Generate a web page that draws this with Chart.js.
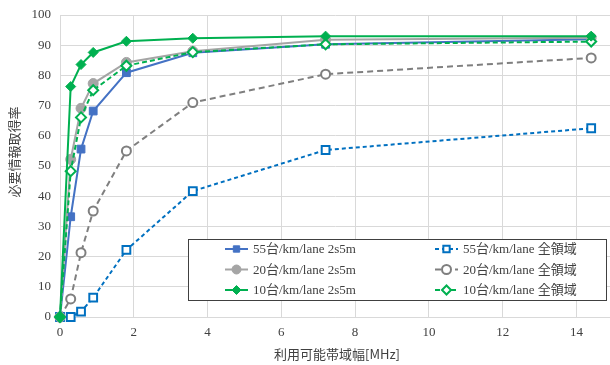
<!DOCTYPE html>
<html>
<head>
<meta charset="utf-8">
<script src="https://cdn.jsdelivr.net/npm/chart.js@4.4.1/dist/chart.umd.min.js"></script>
<style>
  html, body { margin: 0; padding: 0; background: #fff; }
  canvas { display: block; }
</style>
</head>
<body>
<canvas id="chart" width="610" height="365"></canvas>
<script>
/* ─── Data ─── */
const bandwidth = [0, 0.29, 0.57, 0.9, 1.8, 3.6, 7.2, 14.4];

const rate55Partial = [0, 33.2, 55.6, 68.2, 80.9, 87.5, 90.3, 92.0];
const rate20Partial = [0, 52.2, 69.1, 77.3, 84.3, 88.0, 91.8, 92.5];
const rate10Partial = [0, 76.3, 83.6, 87.6, 91.3, 92.3, 93.0, 93.0];
const rate55Full    = [0, 0.0, 1.8, 6.4, 22.2, 41.7, 55.3, 62.5];
const rate20Full    = [0, 6.0, 21.3, 35.1, 55.0, 71.0, 80.4, 85.8];
const rate10Full    = [0, 48.3, 66.1, 75.1, 83.2, 87.7, 90.3, 91.2];

const seriesLabels = [
  '55台/km/lane 2s5m', '55台/km/lane 全領域',
  '20台/km/lane 2s5m', '20台/km/lane 全領域',
  '10台/km/lane 2s5m', '10台/km/lane 全領域',
];

const xTicks = [0, 2, 4, 6, 8, 10, 12, 14];
const yTicks = [0, 10, 20, 30, 40, 50, 60, 70, 80, 90, 100];

const xTitle = '利用可能帯域幅[MHz]';
const yTitle = '必要情報取得率';

/* ─── Styles ─── */
const FONT = "'Liberation Serif', 'Noto Sans CJK JP', serif";
const TITLE_FONT = "'Noto Sans CJK JP', 'Liberation Serif', sans-serif";
const GRID = '#D9D9D9';

function toPoints(values) {
  return values.map((y, i) => ({ x: bandwidth[i], y }));
}

const STYLES = [
  { data: rate55Partial, color: '#4472C4', style: 'rect',    radius: 5.5, fill: true,  dash: [],     order: 3 },
  { data: rate55Full,    color: '#0070C0', style: 'rect',    radius: 5.5, fill: false, dash: [4, 3], order: 4 },
  { data: rate20Partial, color: '#A5A5A5', style: 'circle',  radius: 5,   fill: true,  dash: [],     order: 2 },
  { data: rate20Full,    color: '#7F7F7F', style: 'circle',  radius: 4.5, fill: false, dash: [6, 4], order: 5 },
  { data: rate10Partial, color: '#00B050', style: 'rectRot', radius: 5,   fill: true,  dash: [],     order: 0 },
  { data: rate10Full,    color: '#00B050', style: 'rectRot', radius: 5,   fill: false, dash: [5, 3], order: 1 },
];

const datasets = STYLES.map((s, i) => ({
  label: seriesLabels[i],
  data: toPoints(s.data),
  borderColor: s.color,
  backgroundColor: s.fill ? s.color : '#ffffff',
  borderWidth: 2,
  borderDash: s.dash,
  pointStyle: s.style,
  pointRadius: s.radius,
  pointBorderWidth: s.fill ? 1 : 2,
  pointBackgroundColor: s.fill ? s.color : '#ffffff',
  pointBorderColor: s.color,
  showLine: true,
  tension: 0,
  clip: false,
  order: s.order,
}));

/* ─── Boxed two-column legend inside the plot ─── */
const boxLegend = {
  id: 'boxLegend',
  afterDatasetsDraw(chart) {
    const ctx = chart.ctx;
    const box = { x: 188.5, y: 239.5, w: 418, h: 61 };
    const cols = [{ lx: 225, tx: 253 }, { lx: 435, tx: 463 }];
    const rows = [249, 269.5, 290];

    ctx.save();
    ctx.fillStyle = '#ffffff';
    ctx.fillRect(box.x, box.y, box.w, box.h);
    ctx.strokeStyle = '#404040';
    ctx.lineWidth = 1;
    ctx.strokeRect(box.x, box.y, box.w, box.h);

    ctx.font = '13px ' + FONT;
    ctx.textBaseline = 'middle';
    ctx.textAlign = 'left';

    chart.data.datasets.forEach((ds, i) => {
      const col = cols[i % 2];
      const y = rows[Math.floor(i / 2)];
      ctx.strokeStyle = ds.borderColor;
      ctx.lineWidth = 2;
      ctx.setLineDash(ds.borderDash || []);
      ctx.beginPath();
      ctx.moveTo(col.lx, y);
      ctx.lineTo(col.lx + 23, y);
      ctx.stroke();
      ctx.setLineDash([]);

      ctx.fillStyle = ds.pointBackgroundColor;
      ctx.strokeStyle = ds.pointBorderColor;
      ctx.lineWidth = ds.pointBorderWidth;
      Chart.helpers.drawPoint(ctx, {
        pointStyle: ds.pointStyle,
        radius: Math.min(ds.pointRadius, 4.5),
        rotation: 0,
        borderWidth: ds.pointBorderWidth,
      }, col.lx + 11.5, y);

      ctx.fillStyle = '#404040';
      ctx.fillText(ds.label, col.tx, y + 1);
    });
    ctx.restore();
  },
};

/* ─── Axis titles ─── */
const axisTitles = {
  id: 'axisTitles',
  afterDraw(chart) {
    const ctx = chart.ctx;
    ctx.save();
    ctx.fillStyle = '#404040';
    ctx.font = '13px ' + TITLE_FONT;
    ctx.textAlign = 'center';
    ctx.textBaseline = 'middle';
    ctx.fillText(xTitle, 337, 354);
    ctx.translate(14, 152);
    ctx.rotate(-Math.PI / 2);
    ctx.fillText(yTitle, 0, 0);
    ctx.restore();
  },
};

// keep the plot edges fixed regardless of tick label overhang
function fixPadding(scale) {
  scale.paddingLeft = 0;
  scale.paddingRight = 0;
  scale.paddingTop = 0;
  scale.paddingBottom = 0;
}

new Chart(document.getElementById('chart'), {
  type: 'scatter',
  data: { datasets },
  plugins: [boxLegend, axisTitles],
  options: {
    responsive: false,
    animation: false,
    layout: { autoPadding: false, padding: { top: 15, right: 0, left: 0, bottom: 0 } },
    plugins: {
      legend: { display: false },
      tooltip: { enabled: false },
    },
    scales: {
      x: {
        type: 'linear',
        min: 0,
        max: 14.91,
        afterBuildTicks: (scale) => { scale.ticks = xTicks.map(v => ({ value: v })); },
        afterFit: (scale) => { scale.height = 48; fixPadding(scale); },
        grid: { color: GRID, drawTicks: false },
        border: { color: GRID },
        ticks: { color: '#404040', font: { family: FONT, size: 13 }, padding: 8 },
      },
      y: {
        type: 'linear',
        min: 0,
        max: 100,
        afterBuildTicks: (scale) => { scale.ticks = yTicks.map(v => ({ value: v })); },
        afterFit: (scale) => { scale.width = 60; fixPadding(scale); },
        grid: { color: GRID, drawTicks: false },
        border: { color: GRID },
        ticks: { color: '#404040', font: { family: FONT, size: 13 }, padding: 9 },
      },
    },
  },
});
</script>
</body>
</html>
